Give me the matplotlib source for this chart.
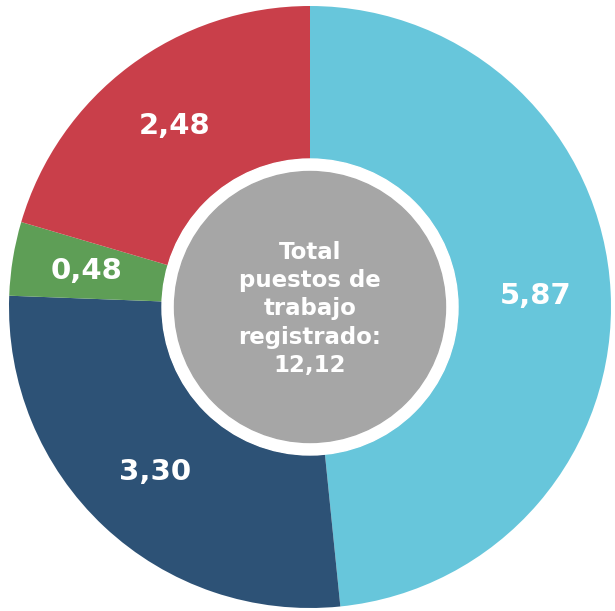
import matplotlib.pyplot as plt
import numpy as np

categories = ["Celeste", "Azul", "Verde", "Rojo"]
values = [5.87, 3.30, 0.48, 2.48]
labels = ["5,87", "3,30", "0,48", "2,48"]
colors = ["#67C6DB", "#2D5276", "#5E9E56", "#C93F4A"]
center_text = "Total\npuestos de\ntrabajo\nregistrado:\n12,12"

fig = plt.figure(figsize=(6.15, 6.11), dpi=100)
ax = fig.add_axes([0, 0, 1, 1])

R = 301.0
wedges, _ = ax.pie(values, colors=colors, startangle=90, counterclock=False,
                   radius=1.0, wedgeprops=dict(width=1 - 148 / R, linewidth=0))

# labels in the middle of each ring segment
total = sum(values)
ang = 90.0
for v, lab in zip(values, labels):
    mid = np.deg2rad(ang - v / total * 360 / 2)
    ang -= v / total * 360
    r = 226 / R
    ax.text(r * np.cos(mid), r * np.sin(mid), lab, ha="center", va="center",
            color="white", fontsize=21, fontweight="bold", family="DejaVu Sans")

ax.add_patch(plt.Circle((0, 0), 148 / R, color="white", zorder=3))
ax.add_patch(plt.Circle((0, 0), 135.5 / R, color="#A6A6A6", zorder=4))
ax.text(0, -2 / R, center_text, ha="center", va="center", color="white",
        fontsize=16.5, fontweight="bold", linespacing=1.3, zorder=5)

ax.set_xlim(-310 / R, (615 - 310) / R)
ax.set_ylim(-304 / R, 307 / R)
ax.set_aspect("auto")
ax.axis("off")

fig.savefig("out.png", dpi=100)
